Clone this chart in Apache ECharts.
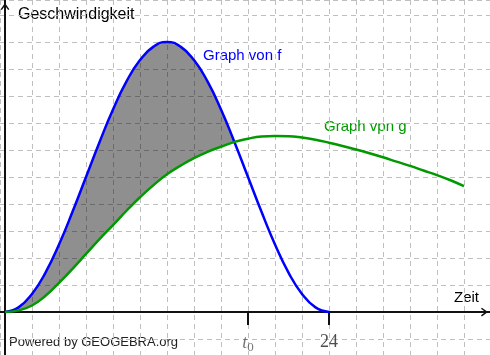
<!DOCTYPE html>
<html>
<head>
<meta charset="utf-8">
<title>Geschwindigkeit</title>
<script src="https://cdn.jsdelivr.net/npm/echarts@6/dist/echarts.min.js"></script>
<style>
    html, body { margin: 0; padding: 0; background: #fff; }
    #chart { width: 490px; height: 355px; }
</style>
</head>
<body>
<div id="chart"></div>
<script>
    var zeitF = [0, 1, 2, 3, 4, 5, 6, 7, 8, 9, 10, 11, 12, 13, 14, 15, 16, 17, 18, 19, 20, 21, 22, 23, 24];
    var werteF = [0, 0.17, 0.67, 1.46, 2.5, 3.71, 5.0, 6.29, 7.5, 8.54, 9.33, 9.83, 10, 9.83, 9.33, 8.54, 7.5, 6.29, 5.0, 3.71, 2.5, 1.46, 0.67, 0.17, 0];

    var zeitG = [0, 1, 2, 3, 4, 5, 6, 7, 8, 9, 10, 11, 12, 13, 14, 15, 16, 17, 18, 19, 20, 21, 22, 23, 24, 25, 26, 27, 28, 29, 30, 31, 32, 33, 34];
    var werteG = [0, 0.06, 0.24, 0.6, 1.08, 1.6, 2.15, 2.7, 3.22, 3.75, 4.25, 4.7, 5.1, 5.42, 5.7, 5.93, 6.12, 6.3, 6.42, 6.5, 6.52, 6.51, 6.46, 6.38, 6.27, 6.15, 6.02, 5.88, 5.73, 5.57, 5.41, 5.24, 5.07, 4.88, 4.66];

    var schnittIndex = 17;          // f und g schneiden sich bei t = 17
    var tickWerte = [18, 24];       // t0 und 24
    var tickTexte = ['{t|t}{s|0}', '24'];

    var chart = echarts.init(document.getElementById('chart'));

    function paare(xs, ys) {
        var arr = [];
        for (var i = 0; i < xs.length; i++) {
            arr.push([xs[i], ys[i]]);
        }
        return arr;
    }

    // Flaeche zwischen f (oben) und g (unten) von 0 bis zum Schnittpunkt
    function renderFlaeche(params, api) {
        var pts = [];
        for (var i = 0; i <= schnittIndex; i++) {
            pts.push(api.coord([zeitF[i], werteF[i]]));
        }
        for (var j = schnittIndex; j >= 0; j--) {
            pts.push(api.coord([zeitG[j], werteG[j]]));
        }
        return {
            type: 'polygon',
            shape: { points: pts },
            style: { fill: 'rgba(0,0,0,0.44)' },
            silent: true
        };
    }

    var pfeil = 'path://M5,0 L10,7 L8.6,8 L5,3 L1.4,8 L0,7 Z';
    var gitter = { lineStyle: { color: '#bfbfbf', type: [5, 4], width: 1 } };
    var xMin = -5 / 13.5, xMax = 485 / 13.5;

    var option = {
        animation: false,
        grid: { left: 0, right: 0, top: 0, bottom: 0, outerBoundsMode: 'none', containLabel: false },
        xAxis: [
            {
                // nur Gitterlinien
                type: 'value', position: 'top', min: xMin, max: xMax,
                minInterval: 2, maxInterval: 2,
                axisLine: { show: false, onZero: false }, axisTick: { show: false }, axisLabel: { show: false },
                splitLine: gitter
            },
            {
                type: 'value', position: 'bottom', min: xMin, max: xMax,
                axisLine: {
                    onZero: true,
                    symbol: ['none', pfeil], symbolSize: [9, 7], symbolOffset: [0, -5.5],
                    lineStyle: { color: '#111', width: 2 }
                },
                axisTick: {
                    customValues: tickWerte, length: 13,
                    lineStyle: { color: '#111', width: 2 }
                },
                axisLabel: { show: false },
                splitLine: { show: false }
            }
        ],
        yAxis: {
            type: 'value', min: -43 / 27, max: 312 / 27,
            minInterval: 1, maxInterval: 1,
            axisLine: {
                onZero: true,
                symbol: ['none', pfeil], symbolSize: [9, 7], symbolOffset: [0, -6.5],
                lineStyle: { color: '#111', width: 2 }
            },
            axisTick: { show: false },
            axisLabel: { show: false },
            splitLine: gitter
        },
        series: [
            {
                name: 'flaeche', type: 'custom', data: [0], renderItem: renderFlaeche, silent: true
            },
            {
                name: 'f', type: 'line', data: paare(zeitF, werteF), smooth: true,
                symbol: 'none', lineStyle: { color: '#0000ff', width: 2.5 }
            },
            {
                name: 'g', type: 'line', data: paare(zeitG, werteG), smooth: true,
                symbol: 'none', lineStyle: { color: '#009900', width: 2.5 }
            },
            {
                // Beschriftung der Markierungen t0 und 24
                name: 'ticks', type: 'scatter', symbolSize: 0, silent: true,
                data: tickWerte.map(function (t) { return [t, 0]; }),
                label: {
                    show: true, position: 'bottom', distance: 21,
                    fontFamily: 'Liberation Serif', fontSize: 18, color: '#222',
                    formatter: function (p) { return tickTexte[p.dataIndex]; },
                    rich: {
                        t: { fontFamily: 'Liberation Serif', fontStyle: 'italic', fontSize: 18, color: '#555' },
                        s: { fontFamily: 'Liberation Serif', fontSize: 13, color: '#555', padding: [8, 0, 0, 0] }
                    }
                }
            }
        ],
        graphic: [
            { type: 'text', left: 18, top: 7, style: { text: 'Geschwindigkeit', fill: '#000', font: '16px "Liberation Sans"' } },
            { type: 'text', left: 203, top: 48, style: { text: 'Graph von f', fill: '#0000ff', font: '15px "Liberation Sans"' } },
            { type: 'text', left: 324, top: 119, style: { text: 'Graph vpn g', fill: '#009900', font: '15px "Liberation Sans"' } },
            { type: 'text', left: 454, top: 290, style: { text: 'Zeit', fill: '#000', font: '15px "Liberation Sans"' } },
            { type: 'text', left: 9, top: 336, style: { text: 'Powered by GEOGEBRA.org', fill: '#222', font: '13px "Liberation Sans"' } }
        ]
    };

    chart.setOption(option);
</script>
</body>
</html>
